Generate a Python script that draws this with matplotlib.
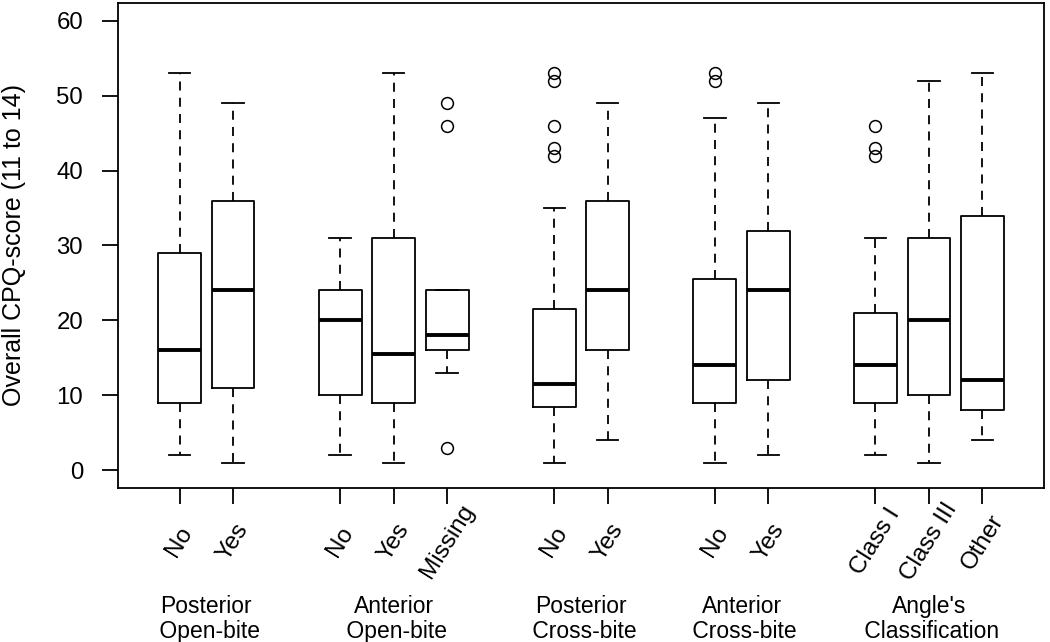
import matplotlib
matplotlib.use("Agg")
import matplotlib.pyplot as plt
from matplotlib import transforms

plt.rcParams['font.family'] = ['Liberation Sans', 'DejaVu Sans']

# Box summaries (CPQ-score, age 11 to 14)
positions = [1, 2, 4, 5, 6, 8, 9, 11, 12, 14, 15, 16]
tick_labels = ['No', 'Yes', 'No', 'Yes', 'Missing', 'No', 'Yes', 'No', 'Yes',
               'Class I', 'Class III', 'Other']
whis_lo = [2, 1, 2, 1, 13, 1, 4, 1, 2, 2, 1, 4]
q1 = [9, 11, 10, 9, 16, 8.5, 16, 9, 12, 9, 10, 8]
medians = [16, 24, 20, 15.5, 18, 11.5, 24, 14, 24, 14, 20, 12]
q3 = [29, 36, 24, 31, 24, 21.5, 36, 25.5, 32, 21, 31, 34]
whis_hi = [53, 49, 31, 53, 24, 35, 49, 47, 49, 31, 52, 53]
outliers = [[], [], [], [], [49, 46, 3], [53, 52, 46, 43, 42], [],
            [53, 52], [], [46, 43, 42], [], []]

group_names = ['Posterior\n Open-bite', 'Anterior\n Open-bite',
               'Posterior\n Cross-bite', 'Anterior\n Cross-bite',
               "Angle's\n Classification"]
group_centers = [1.5, 5, 8.5, 11.5, 15]

stats = []
for i in range(len(positions)):
    stats.append({'whislo': whis_lo[i], 'q1': q1[i], 'med': medians[i],
                  'q3': q3[i], 'whishi': whis_hi[i], 'fliers': outliers[i]})

fig = plt.figure(figsize=(10.5, 6.42), dpi=100)
ax = fig.add_axes([118.5 / 1050, 1 - 488.3 / 642, (1043.5 - 118.5) / 1050, (488.3 - 2.7) / 642])

lw = 1.3
ax.bxp(stats, positions=positions, widths=0.8, showfliers=True,
       boxprops=dict(color='black', linewidth=lw),
       medianprops=dict(color='black', linewidth=2.8, solid_capstyle='butt'),
       whiskerprops=dict(color='black', linewidth=lw, linestyle=(0, (5, 4))),
       capprops=dict(color='black', linewidth=lw),
       capwidths=0.4,
       flierprops=dict(marker='o', markerfacecolor='none', markeredgecolor='black',
                       markersize=8.5, markeredgewidth=1.1))

ax.set_xlim(-0.14, 17.14)
ax.set_ylim(-2.4, 62.4)
ax.set_yticks([0, 10, 20, 30, 40, 50, 60])
ax.set_xticks(positions)
ax.set_xticklabels([])
ax.tick_params(axis='both', length=11.5, width=lw, labelsize=17.3)
ax.tick_params(axis='y', pad=14)
for s in ax.spines.values():
    s.set_linewidth(lw)

ax.set_ylabel('Overall CPQ-score (11 to 14)', fontsize=18)
ax.yaxis.set_label_coords(-0.1, 0.5)

# rotated category labels, centred under each box
trans = transforms.blended_transform_factory(ax.transData, ax.transAxes)
for p, lab in zip(positions, tick_labels):
    ax.text(p, -0.11, lab, transform=trans, rotation=58,
            rotation_mode='anchor', ha='center', va='center', fontsize=17.5)

# group names
for c, name in zip(group_centers, group_names):
    ax.text(c, -0.22, name, transform=trans, ha='center', va='top',
            multialignment='center', fontsize=16.5, linespacing=1.1)

fig.savefig('out.png', dpi=100)
